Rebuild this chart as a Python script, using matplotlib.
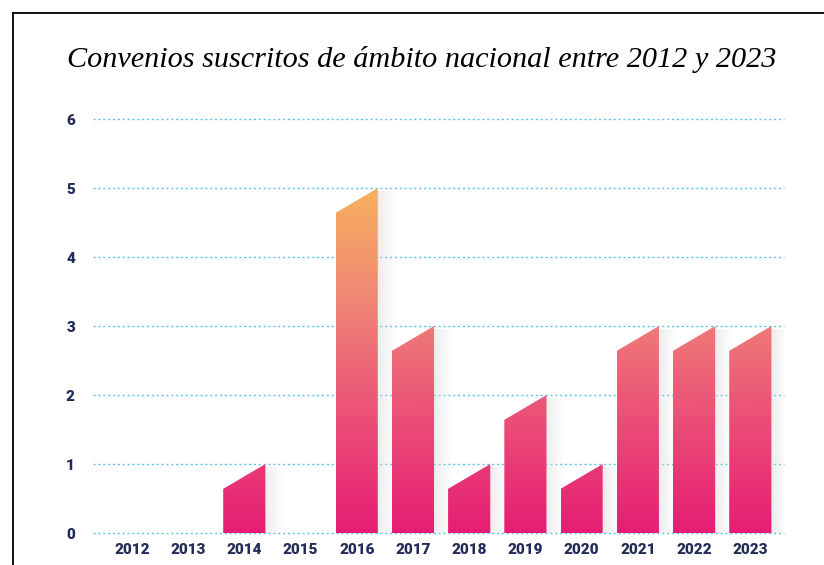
import matplotlib
matplotlib.use("Agg")
import matplotlib.pyplot as plt
import numpy as np
from matplotlib.colors import LinearSegmentedColormap
from matplotlib.patches import Polygon
from matplotlib.lines import Line2D

# Data
years = ['2012', '2013', '2014', '2015', '2016', '2017',
         '2018', '2019', '2020', '2021', '2022', '2023']
convenios = [0, 0, 1, 0, 5, 3, 1, 2, 1, 3, 3, 3]
y_ticks = [0, 1, 2, 3, 4, 5, 6]

title = "Convenios suscritos de ámbito nacional entre 2012 y 2023"

navy = '#232B58'
grid_blue = '#5BC3E8'
cmap = LinearSegmentedColormap.from_list(
    'bars', ['#E61D74', '#EB4F77', '#F08577', '#F7B05E'])

fig = plt.figure(figsize=(8.24, 5.65), dpi=100)
ax = fig.add_axes([0.1129, 0.0566, 0.8386, 0.7327])

x = np.arange(len(years))
w = 0.75
slant = 0.36

# dotted grid lines
for t in y_ticks:
    ax.axhline(t, color=grid_blue, lw=1, ls=(0, (1.5, 2)), clip_on=False, zorder=1)

grad = np.linspace(0, 1, 256).reshape(-1, 1)
for xi, v in zip(x, convenios):
    if v <= 0:
        continue
    left, right = xi - w / 2, xi + w / 2
    # soft shadow to the right
    sh = np.zeros((1, 64, 4))
    sh[..., :3] = 0.85
    sh[0, :, 3] = np.linspace(0.45, 0.0, 64)
    ax.imshow(sh, extent=(right, right + 0.32, 0, v - 0.05), aspect='auto',
              interpolation='bilinear', zorder=2, origin='lower')
    # bar with slanted top, colour follows value
    poly = Polygon([(left, 0), (right, 0), (right, v), (left, v - slant)],
                   closed=True, facecolor='none', edgecolor='none')
    ax.add_patch(poly)
    img = ax.imshow(cmap(grad[:int(256 * v / 5)] if v < 5 else grad),
                    extent=(left, right, 0, v), aspect='auto', origin='lower',
                    interpolation='bilinear', zorder=3)
    img.set_clip_path(poly)

ax.set_xlim(-0.69, 11.6)
ax.set_ylim(0, 6)
ax.set_xticks(x)
ax.set_xticklabels(years)
ax.set_yticks(y_ticks)
for s in ax.spines.values():
    s.set_visible(False)
ax.tick_params(axis='both', length=0, colors=navy)
ax.tick_params(axis='y', pad=13)
ax.tick_params(axis='x', pad=7)
for lab in ax.get_xticklabels() + ax.get_yticklabels():
    lab.set_fontfamily('Roboto')
    lab.set_fontweight('heavy')
    lab.set_fontsize(11)

fig.text(0.512, 0.895, title, ha='center', va='center',
         fontfamily='Liberation Serif', fontstyle='italic', fontsize=21.8,
         color='black')

# frame (top and left edges)
fig.add_artist(Line2D([0.0158, 1.0], [0.977, 0.977], transform=fig.transFigure,
                      color='black', lw=1.3))
fig.add_artist(Line2D([0.0158, 0.0158], [0.0, 0.977], transform=fig.transFigure,
                      color='black', lw=1.3))

fig.savefig('out.png', dpi=100)
